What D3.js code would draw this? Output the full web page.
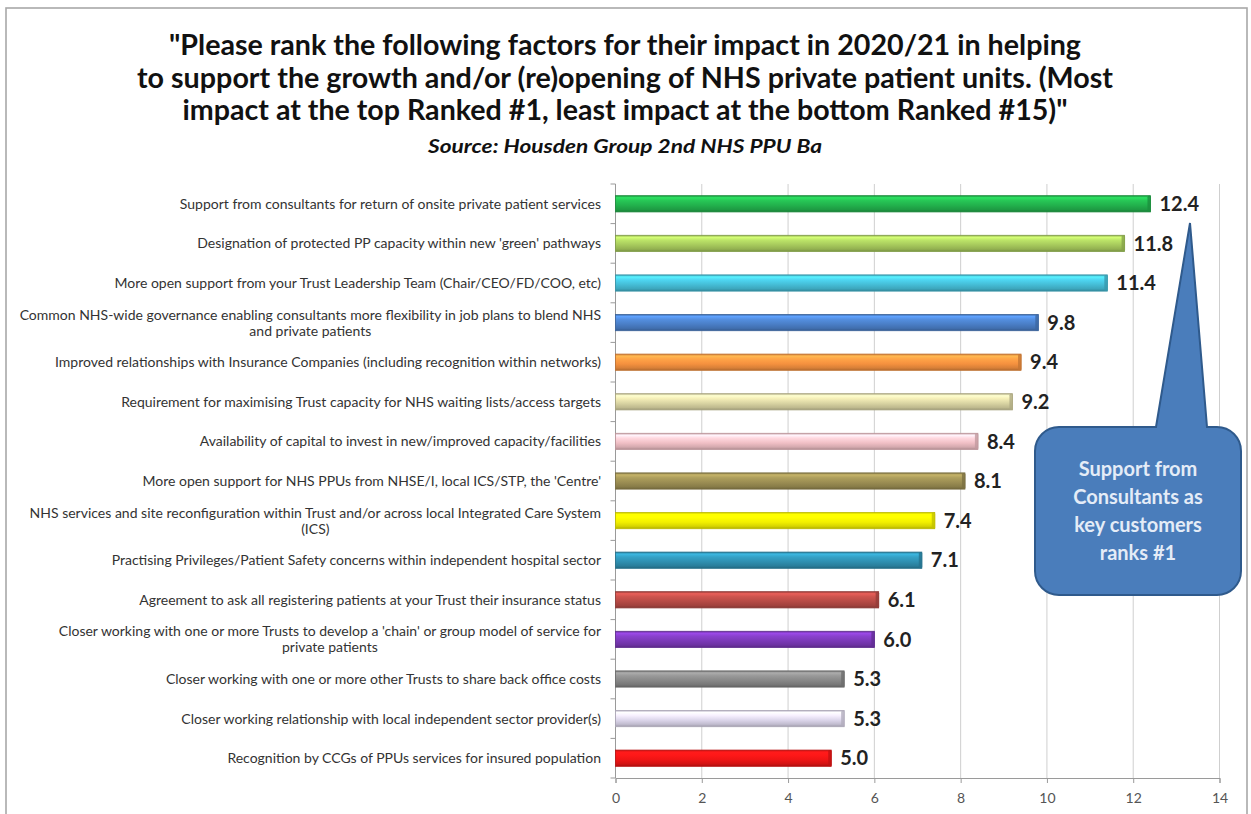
<!DOCTYPE html>
<html>
<head>
<meta charset="utf-8">
<script src="https://cdn.jsdelivr.net/npm/d3@7"></script>
<style>
  html, body { margin: 0; padding: 0; background: #ffffff; }
  svg { display: block; }
</style>
</head>
<body>
<svg id="chart" width="1251" height="814"></svg>
<script>
// ---------------- DATA ----------------
const categories = [
  "Support from consultants for return of onsite private patient services",
  "Designation of protected PP capacity within new 'green' pathways",
  "More open support from your Trust Leadership Team (Chair/CEO/FD/COO, etc)",
  "Common NHS-wide governance enabling consultants more flexibility in job plans to blend NHS\nand private patients",
  "Improved relationships with Insurance Companies (including recognition within networks)",
  "Requirement for maximising Trust capacity for NHS waiting lists/access targets",
  "Availability of capital to invest in new/improved capacity/facilities",
  "More open support for NHS PPUs from NHSE/I, local ICS/STP, the 'Centre'",
  "NHS services and site reconfiguration within Trust and/or across local Integrated Care System\n(ICS)",
  "Practising Privileges/Patient Safety concerns within independent hospital sector",
  "Agreement to ask all registering patients at your Trust their insurance status",
  "Closer working with one or more Trusts to develop a 'chain' or group model of service for\nprivate patients",
  "Closer working with one or more other Trusts to share back office costs",
  "Closer working relationship with local independent sector provider(s)",
  "Recognition by CCGs of PPUs services for insured population"
];
const values = [12.4, 11.8, 11.4, 9.8, 9.4, 9.2, 8.4, 8.1, 7.4, 7.1, 6.1, 6.0, 5.3, 5.3, 5.0];
const barColors = [
  "#22b04c", "#a6c95c", "#45bdd6", "#4a7ec6", "#f5913f",
  "#d8d3a2", "#f0bfc5", "#9a8c52", "#f2f000", "#2f8fb0",
  "#b64a45", "#7a39b6", "#878787", "#dbd5ea", "#ee1515"
];
const xTicks = [0, 2, 4, 6, 8, 10, 12, 14];
const titleLines = [
  "\"Please rank the following factors for their impact in 2020/21 in helping",
  "to support the growth and/or (re)opening of NHS private patient units. (Most",
  "impact at the top Ranked #1, least impact at the bottom Ranked #15)\""
];
const subtitle = "Source: Housden Group 2nd NHS PPU Ba";
const calloutLines = ["Support from", "Consultants as", "key customers", "ranks #1"];

// ---------------- LAYOUT ----------------
const svg = d3.select("#chart");
const FONT = "Lato, 'Open Sans', 'DejaVu Sans', sans-serif";

const plot = { left: 615.5, right: 1219.5, top: 184, bottom: 778 };

const x = d3.scaleLinear().domain([0, 14]).range([plot.left, plot.right]);
const y = d3.scaleBand().domain(categories).range([plot.top, plot.bottom])
  .paddingInner(0.59).paddingOuter(0.295);

// frame
svg.append("rect")
  .attr("x", 6).attr("y", 8).attr("width", 1241).attr("height", 830)
  .attr("fill", "#ffffff").attr("stroke", "#a8a8a8").attr("stroke-width", 1.6);

// title
const titleW = [912, 976, 885];
const titleY = [55, 88, 120];
svg.append("g").selectAll("text").data(titleLines).join("text")
  .attr("x", 625).attr("y", (d, i) => titleY[i])
  .attr("text-anchor", "middle")
  .attr("font-family", FONT).attr("font-weight", 700).attr("font-size", 28)
  .attr("fill", "#111111")
  .attr("textLength", (d, i) => titleW[i])
  .attr("lengthAdjust", "spacingAndGlyphs")
  .text(d => d);

svg.append("text")
  .attr("x", 625).attr("y", 153)
  .attr("text-anchor", "middle")
  .attr("font-family", FONT).attr("font-weight", 700).attr("font-style", "italic")
  .attr("font-size", 18).attr("fill", "#111111")
  .attr("textLength", 394).attr("lengthAdjust", "spacingAndGlyphs")
  .text(subtitle);

// gridlines
svg.append("g").selectAll("line").data(xTicks.filter(t => t > 0)).join("line")
  .attr("x1", d => x(d)).attr("x2", d => x(d))
  .attr("y1", plot.top).attr("y2", plot.bottom)
  .attr("stroke", "#cfcfcf").attr("stroke-width", 1);

// x axis
const xAxis = svg.append("g")
  .attr("transform", `translate(0,${plot.bottom})`)
  .call(d3.axisBottom(x).tickValues(xTicks).tickSize(5).tickPadding(10).tickFormat(d3.format("d")));
xAxis.select(".domain").attr("stroke", "#9a9a9a");
xAxis.selectAll(".tick line").attr("stroke", "#9a9a9a");
xAxis.selectAll(".tick text")
  .attr("font-family", FONT).attr("font-size", 14).attr("fill", "#555555");

// y axis line + ticks at band boundaries
svg.append("line")
  .attr("x1", plot.left).attr("x2", plot.left)
  .attr("y1", plot.top).attr("y2", plot.bottom)
  .attr("stroke", "#9a9a9a");
const boundaries = d3.range(categories.length + 1).map(i => plot.top + i * y.step());
svg.append("g").selectAll("line").data(boundaries).join("line")
  .attr("x1", plot.left - 5).attr("x2", plot.left)
  .attr("y1", d => d).attr("y2", d => d)
  .attr("stroke", "#9a9a9a");

// category labels
const labelG = svg.append("g");
const probe = labelG.append("text").attr("font-family", FONT).attr("font-size", 12)
  .text(categories[0]);
const w12 = probe.node().getComputedTextLength();
probe.remove();
const labelFS = Math.min(14, 12 * 429 / w12);
const labelRight = 601;

categories.forEach(cat => {
  const lines = cat.split("\n");
  const cy = y(cat) + y.bandwidth() / 2;
  const lh = 16;
  const t = labelG.append("text")
    .attr("font-family", FONT).attr("font-size", labelFS).attr("fill", "#333333");
  if (lines.length === 1) {
    t.attr("x", labelRight).attr("y", cy).attr("dy", "0.35em")
      .attr("text-anchor", "end").text(lines[0]);
  } else {
    t.attr("x", labelRight).attr("y", cy - lh / 2).attr("dy", "0.35em")
      .attr("text-anchor", "end").text(lines[0]);
    const w = t.node().getComputedTextLength();
    labelG.append("text")
      .attr("font-family", FONT).attr("font-size", labelFS).attr("fill", "#333333")
      .attr("x", labelRight - w / 2).attr("y", cy + lh / 2).attr("dy", "0.35em")
      .attr("text-anchor", "middle").text(lines[1]);
  }
});

// gradients for bars
const defs = svg.append("defs");
barColors.forEach((c, i) => {
  const base = d3.color(c);
  const g = defs.append("linearGradient").attr("id", "bg" + i)
    .attr("x1", 0).attr("y1", 0).attr("x2", 0).attr("y2", 1);
  const stops = [
    [0, base.darker(0.5)],
    [0.12, base.brighter(0.7)],
    [0.3, base.brighter(0.35)],
    [0.6, base],
    [0.85, base.darker(0.35)],
    [1, base.darker(0.9)]
  ];
  stops.forEach(([o, col]) => g.append("stop").attr("offset", o).attr("stop-color", col.formatHex()));
});

// bars
const bars = svg.append("g");
bars.selectAll("rect.bar").data(values).join("rect")
  .attr("class", "bar")
  .attr("x", x(0))
  .attr("y", (d, i) => y(categories[i]))
  .attr("width", d => x(d) - x(0))
  .attr("height", y.bandwidth())
  .attr("fill", (d, i) => `url(#bg${i})`)
  .attr("stroke", (d, i) => d3.color(barColors[i]).darker(0.7).formatHex())
  .attr("stroke-width", 0.8);
bars.selectAll("rect.cap").data(values).join("rect")
  .attr("class", "cap")
  .attr("x", d => x(d) - 3)
  .attr("y", (d, i) => y(categories[i]))
  .attr("width", 3.5)
  .attr("height", y.bandwidth())
  .attr("rx", 1.5)
  .attr("fill", (d, i) => d3.color(barColors[i]).darker(0.6).formatHex())
  .attr("opacity", 0.8);

// value labels
svg.append("g").selectAll("text").data(values).join("text")
  .attr("x", d => x(d) + 9)
  .attr("y", (d, i) => y(categories[i]) + y.bandwidth() / 2)
  .attr("dy", "0.36em")
  .attr("font-family", FONT).attr("font-weight", 700).attr("font-size", 20)
  .attr("fill", "#222222")
  .text(d => d.toFixed(1));

// callout
const box = { l: 1035, r: 1241, t: 427, b: 595, rad: 24 };
const tip = { x: 1190, y: 223 };
const baseL = 1156, baseR = 1207;
const p = d3.path();
p.moveTo(box.l + box.rad, box.t);
p.lineTo(baseL, box.t);
p.lineTo(tip.x, tip.y);
p.lineTo(baseR, box.t);
p.lineTo(box.r - box.rad, box.t);
p.arcTo(box.r, box.t, box.r, box.t + box.rad, box.rad);
p.lineTo(box.r, box.b - box.rad);
p.arcTo(box.r, box.b, box.r - box.rad, box.b, box.rad);
p.lineTo(box.l + box.rad, box.b);
p.arcTo(box.l, box.b, box.l, box.b - box.rad, box.rad);
p.lineTo(box.l, box.t + box.rad);
p.arcTo(box.l, box.t, box.l + box.rad, box.t, box.rad);
p.closePath();
svg.append("path").attr("d", p.toString())
  .attr("fill", "#4a7dbb").attr("stroke", "#2f5a8c").attr("stroke-width", 2);

const calloutY = [469, 497, 525, 553];
svg.append("g").selectAll("text").data(calloutLines).join("text")
  .attr("x", 1138).attr("y", (d, i) => calloutY[i]).attr("dy", "0.36em")
  .attr("text-anchor", "middle")
  .attr("font-family", FONT).attr("font-weight", 700).attr("font-size", 20)
  .attr("fill", "#e4ecf7")
  .text(d => d);
</script>
</body>
</html>
